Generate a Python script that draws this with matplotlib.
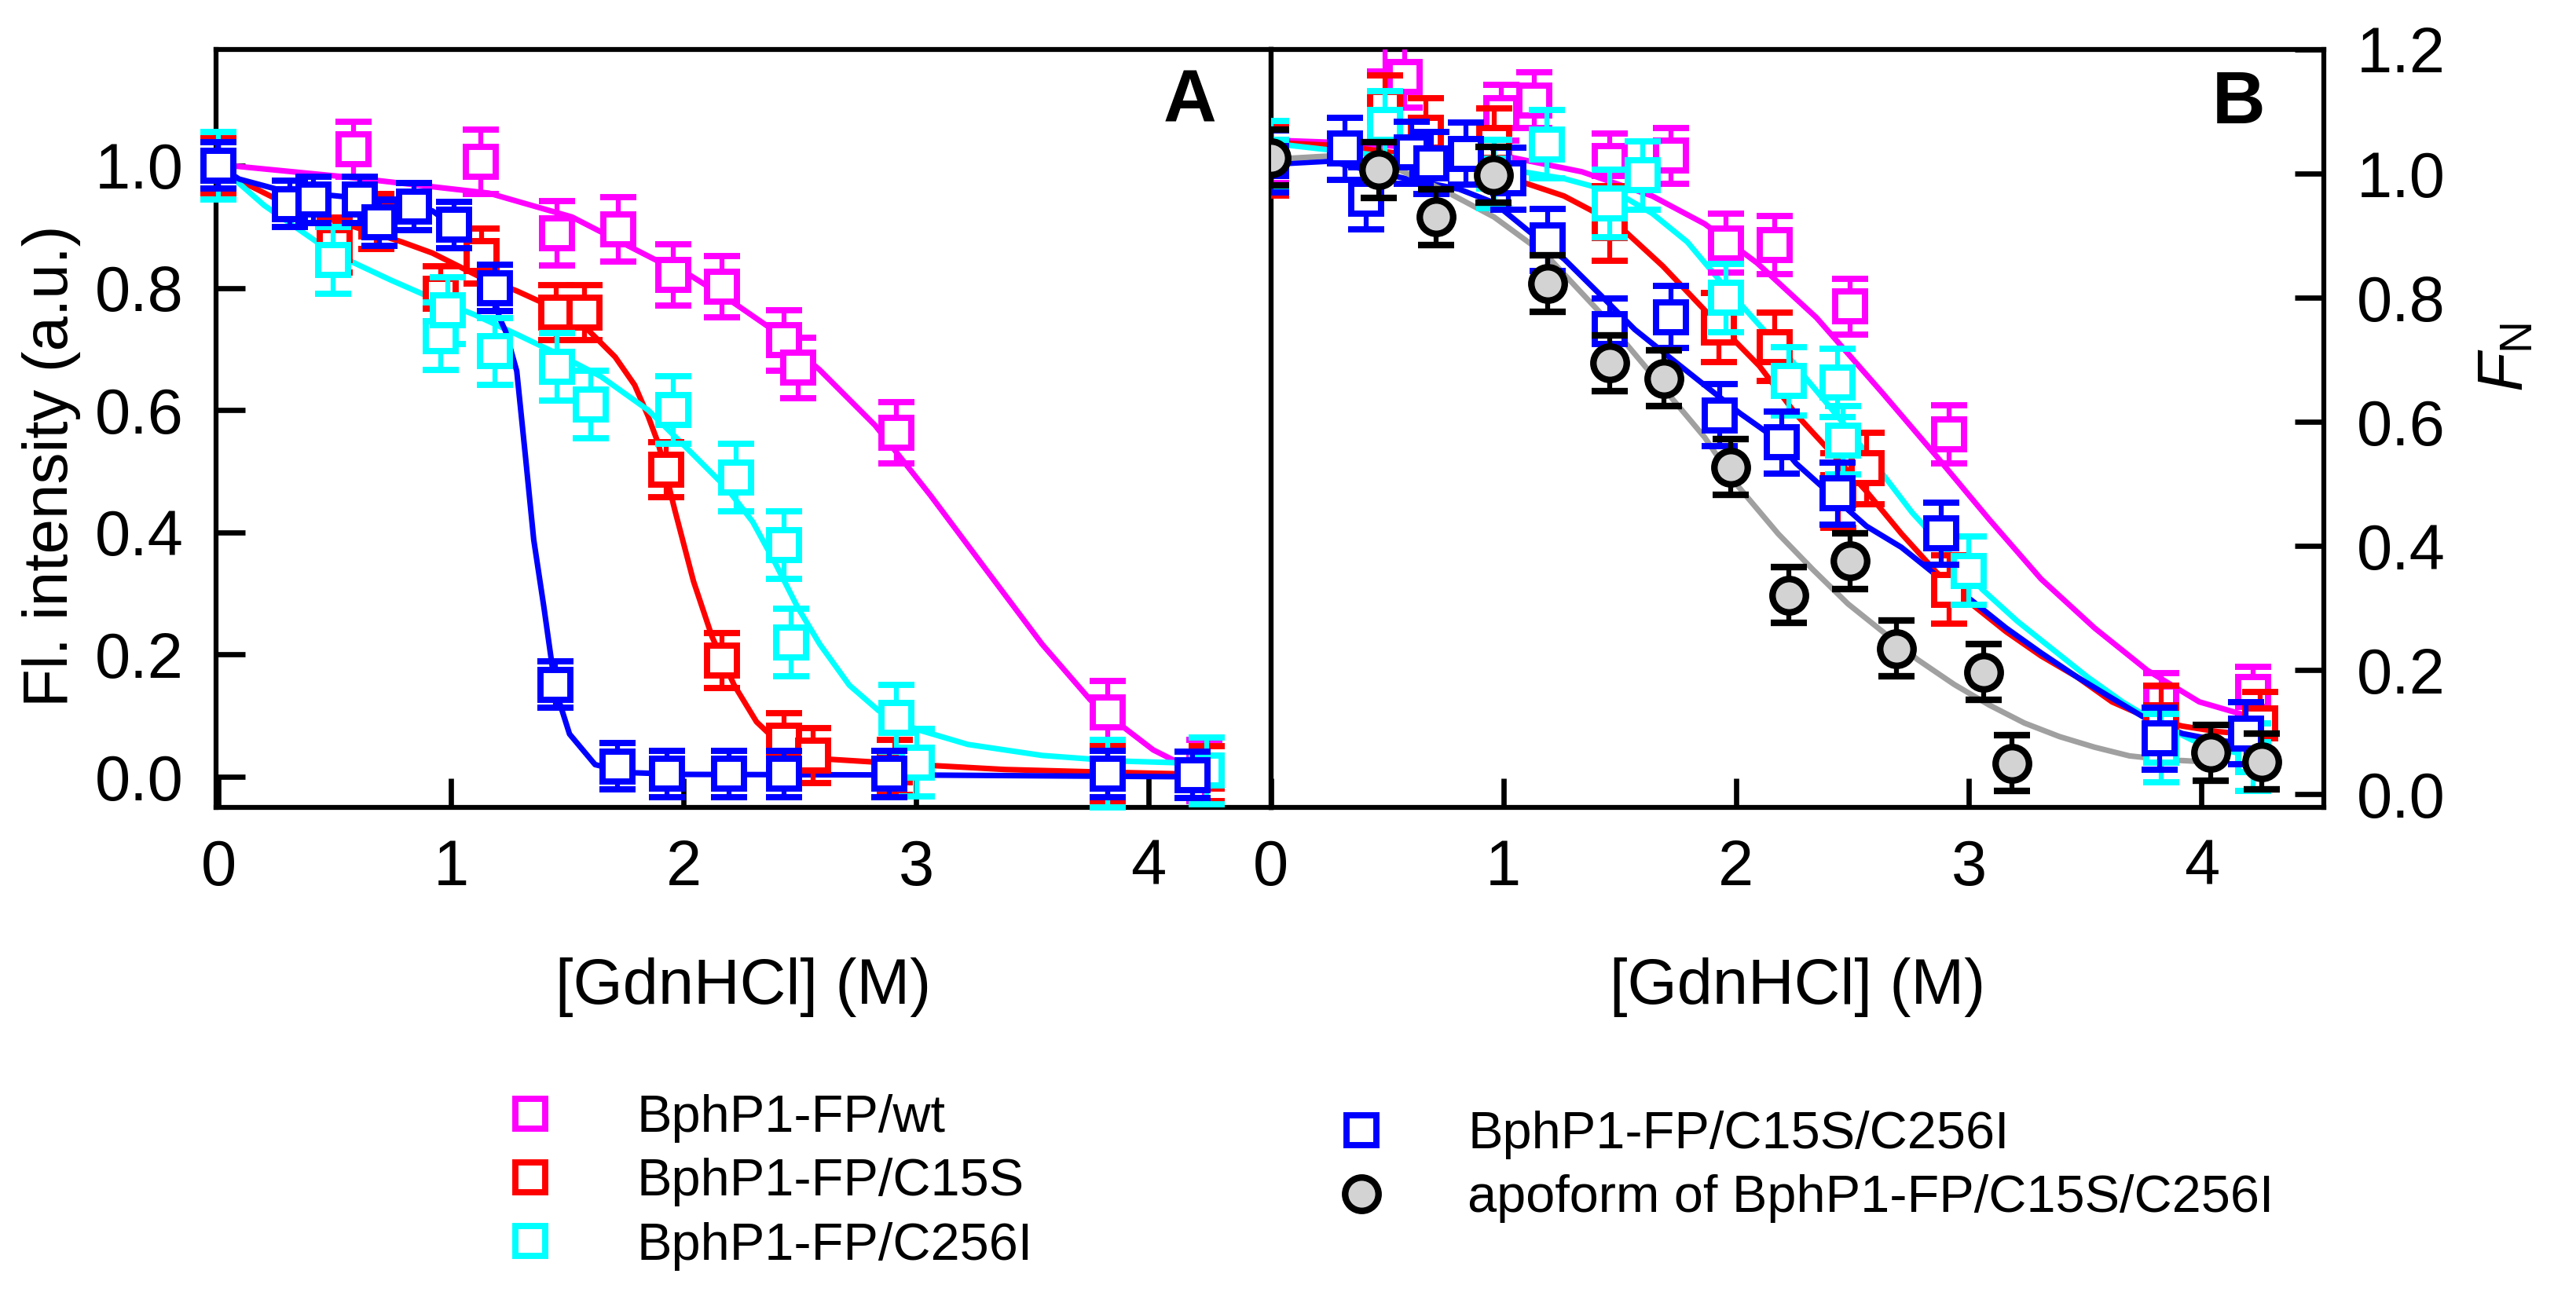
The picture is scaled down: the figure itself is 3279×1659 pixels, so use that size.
import matplotlib
matplotlib.use("Agg")
import matplotlib.pyplot as plt
from matplotlib.lines import Line2D
from matplotlib.ticker import FormatStrFormatter

plt.rcParams['font.family'] = ['Liberation Sans', 'DejaVu Sans']
plt.rcParams['mathtext.fontset'] = 'custom'
plt.rcParams['mathtext.rm'] = 'Liberation Sans'
plt.rcParams['mathtext.it'] = 'Liberation Sans:italic'

labels = ['BphP1-FP/wt', 'BphP1-FP/C15S', 'BphP1-FP/C256I',
          'BphP1-FP/C15S/C256I', 'apoform of BphP1-FP/C15S/C256I']
colors = ['#FF00FF', '#FF0000', '#00FFFF', '#0000FF', '#000000']

# ---- panel A: fluorescence intensity ----
wt_A_x = [0, 0.58, 1.13, 1.456, 1.72, 1.956, 2.166, 2.434, 2.493, 2.917, 3.825, 4.24]
wt_A_y = [1.0, 1.027, 1.006, 0.889, 0.896, 0.821, 0.802, 0.714, 0.669, 0.563, 0.105, 0.01]
wt_A_e = [0.04, 0.045, 0.053, 0.053, 0.053, 0.05, 0.05, 0.05, 0.05, 0.05, 0.052, 0.05]

c15s_A_x = [0, 0.5, 0.68, 0.955, 1.133, 1.452, 1.573, 1.927, 2.166, 2.434, 2.556, 2.91, 3.825, 4.25]
c15s_A_y = [1.0, 0.87, 0.908, 0.79, 0.852, 0.76, 0.76, 0.502, 0.19, 0.059, 0.035, 0.015, 0.005, 0.005]
c15s_A_e = [0.045] * 14

c256i_A_x = [0, 0.493, 0.955, 0.985, 1.189, 1.456, 1.60, 1.956, 2.227, 2.434, 2.462, 2.917, 3.003, 3.825, 4.25]
c256i_A_y = [1.0, 0.845, 0.721, 0.763, 0.696, 0.671, 0.609, 0.60, 0.49, 0.379, 0.22, 0.096, 0.023, 0.005, 0.01]
c256i_A_e = [0.055] * 15

dm_A_x = [0, 0.306, 0.409, 0.608, 0.692, 0.84, 1.015, 1.189, 1.45, 1.716, 1.928, 2.195, 2.434, 2.885, 3.825, 4.19]
dm_A_y = [1.0, 0.937, 0.944, 0.944, 0.907, 0.933, 0.903, 0.80, 0.151, 0.017, 0.005, 0.005, 0.005, 0.005, 0.005, 0.003]
dm_A_e = [0.038] * 16

# fitted curves, panel A
wt_A_fit_x = [0, 0.077, 0.56, 1.163, 1.52, 1.72, 1.884, 2.027, 2.218, 2.378, 2.585, 2.824,
              3.063, 3.303, 3.542, 3.749, 3.893, 4.02, 4.13, 4.24]
wt_A_fit_y = [1.0, 0.999, 0.981, 0.955, 0.916, 0.877, 0.845, 0.821, 0.775, 0.733, 0.666, 0.575,
              0.46, 0.338, 0.217, 0.126, 0.081, 0.044, 0.023, 0.008]
c15s_A_fit_x = [0, 0.089, 0.246, 0.5, 0.79, 0.92, 1.114, 1.283, 1.404, 1.585, 1.706, 1.79, 1.848,
                1.892, 1.963, 2.043, 2.123, 2.218, 2.314, 2.425, 2.617, 3.0, 3.383, 3.78, 4.13, 4.25]
c15s_A_fit_y = [1.0, 0.976, 0.946, 0.91, 0.875, 0.857, 0.82, 0.795, 0.774, 0.733, 0.687, 0.641, 0.59,
                0.545, 0.436, 0.32, 0.229, 0.15, 0.09, 0.05, 0.029, 0.02, 0.012, 0.008, 0.005, 0.004]
c256i_A_fit_x = [0, 0.089, 0.197, 0.318, 0.439, 0.583, 0.74, 0.92, 1.102, 1.283, 1.464, 1.645, 1.848,
                 2.027, 2.187, 2.298, 2.394, 2.49, 2.586, 2.713, 2.84, 3.0, 3.223, 3.542, 3.861, 4.13, 4.25]
c256i_A_fit_y = [1.0, 0.971, 0.935, 0.903, 0.871, 0.841, 0.813, 0.783, 0.756, 0.724, 0.691, 0.655, 0.60,
                 0.533, 0.472, 0.417, 0.35, 0.278, 0.217, 0.15, 0.108, 0.078, 0.053, 0.035, 0.026, 0.023, 0.022]
dm_A_fit_x = [0, 0.089, 0.246, 0.439, 0.68, 0.92, 1.05, 1.15, 1.21, 1.235, 1.283, 1.32, 1.356,
              1.40, 1.45, 1.51, 1.62, 1.76, 2.0, 3.0, 4.2]
dm_A_fit_y = [1.0, 0.978, 0.962, 0.953, 0.944, 0.926, 0.89, 0.83, 0.75, 0.729, 0.664, 0.526, 0.388,
              0.277, 0.142, 0.07, 0.02, 0.007, 0.004, 0.003, 0.0]

# ---- panel B: fraction native ----
wt_B_x = [0, 0.49, 0.577, 0.99, 1.134, 1.455, 1.72, 1.956, 2.167, 2.49, 2.914, 3.826, 4.22]
wt_B_y = [1.03, 1.25, 1.156, 1.098, 1.118, 1.02, 1.029, 0.888, 0.885, 0.786, 0.58, 0.15, 0.165]
wt_B_e = [0.045, 0.085, 0.05, 0.045, 0.045, 0.045, 0.045, 0.047, 0.047, 0.045, 0.047, 0.045, 0.04]

c15s_B_x = [0, 0.49, 0.666, 0.96, 1.455, 1.925, 2.166, 2.44, 2.56, 2.914, 3.826, 4.25]
c15s_B_y = [1.02, 1.108, 1.066, 1.05, 0.92, 0.752, 0.721, 0.49, 0.525, 0.33, 0.12, 0.115]
c15s_B_e = [0.055, 0.05, 0.055, 0.055, 0.06, 0.056, 0.055, 0.06, 0.057, 0.055, 0.055, 0.05]

c256i_B_x = [0, 0.49, 0.96, 1.186, 1.455, 1.60, 1.956, 2.227, 2.435, 2.46, 3.0, 3.826, 4.22]
c256i_B_y = [1.03, 1.078, 1.0, 1.047, 0.952, 0.997, 0.80, 0.666, 0.663, 0.57, 0.36, 0.075, 0.06]
c256i_B_e = [0.055] * 13

dm_B_x = [0, 0.32, 0.41, 0.605, 0.69, 0.84, 1.02, 1.19, 1.455, 1.72, 1.93, 2.197, 2.436, 2.88, 3.82, 4.19]
dm_B_y = [1.02, 1.04, 0.96, 1.034, 1.017, 1.032, 0.992, 0.893, 0.749, 0.769, 0.611, 0.567, 0.485, 0.42, 0.09, 0.098]
dm_B_e = [0.05] * 16

apo_B_x = [0, 0.465, 0.71, 0.957, 1.19, 1.455, 1.69, 1.975, 2.225, 2.49, 2.688, 3.065, 3.185, 4.04, 4.26]
apo_B_y = [1.026, 1.006, 0.93, 0.998, 0.823, 0.695, 0.670, 0.527, 0.321, 0.376, 0.235, 0.197, 0.05, 0.067, 0.053]
apo_B_e = [0.045] * 15

wt_B_fit_x = [0, 0.3, 0.7, 1.036, 1.337, 1.639, 1.865, 2.09, 2.345, 2.63, 2.86, 3.087, 3.31, 3.54,
              3.766, 3.99, 4.22, 4.28]
wt_B_fit_y = [1.054, 1.05, 1.04, 1.026, 1.003, 0.964, 0.919, 0.856, 0.768, 0.646, 0.545, 0.443, 0.347,
              0.268, 0.20, 0.149, 0.124, 0.118]
c15s_B_fit_x = [0, 0.3, 0.7, 1.036, 1.26, 1.488, 1.685, 1.865, 2.1, 2.258, 2.41, 2.56, 2.71, 2.86,
                3.01, 3.16, 3.31, 3.465, 3.615, 3.766, 3.917, 4.07, 4.27]
c15s_B_fit_y = [1.05, 1.045, 1.025, 0.992, 0.964, 0.919, 0.851, 0.78, 0.69, 0.612, 0.55, 0.488, 0.42,
                0.358, 0.307, 0.262, 0.223, 0.189, 0.149, 0.124, 0.11, 0.101, 0.095]
c256i_B_fit_x = [0, 0.28, 0.7, 1.036, 1.26, 1.488, 1.639, 1.79, 1.94, 2.09, 2.24, 2.303, 2.454, 2.605,
                 2.756, 2.907, 3.058, 3.208, 3.359, 3.51, 3.66, 3.81, 3.962, 4.113, 4.22]
c256i_B_fit_y = [1.049, 1.037, 1.02, 1.006, 0.992, 0.969, 0.936, 0.89, 0.823, 0.76, 0.698, 0.669, 0.601,
                 0.528, 0.454, 0.392, 0.33, 0.279, 0.234, 0.189, 0.149, 0.115, 0.087, 0.07, 0.062]
dm_B_fit_x = [0, 0.25, 0.58, 0.81, 0.96, 1.11, 1.262, 1.413, 1.564, 1.714, 1.865, 2.016, 2.167, 2.258,
              2.41, 2.56, 2.71, 2.86, 3.01, 3.16, 3.31, 3.465, 3.615, 3.766, 3.917, 4.07, 4.22]
dm_B_fit_y = [1.015, 1.02, 0.992, 0.975, 0.953, 0.907, 0.862, 0.806, 0.749, 0.704, 0.659, 0.614, 0.574,
              0.533, 0.482, 0.432, 0.398, 0.353, 0.313, 0.268, 0.228, 0.189, 0.155, 0.121, 0.098, 0.087, 0.081]
apo_B_fit_x = [0, 0.28, 0.553, 0.734, 0.96, 1.186, 1.413, 1.639, 1.865, 2.0, 2.18, 2.33, 2.48, 2.63,
               2.78, 2.937, 3.087, 3.238, 3.39, 3.54, 3.69, 3.84, 3.99, 4.05]
apo_B_fit_y = [1.023, 1.029, 1.006, 0.975, 0.93, 0.868, 0.777, 0.676, 0.575, 0.50, 0.42, 0.362, 0.307,
               0.262, 0.217, 0.177, 0.144, 0.115, 0.093, 0.076, 0.062, 0.056, 0.053, 0.053]

W, H = 3279, 1659
fig = plt.figure(figsize=(W / 300, H / 300), dpi=300)
axA = fig.add_axes([275 / W, 1 - 1028 / H, (1617.5 - 275) / W, (1028 - 63) / H])
axB = fig.add_axes([1617.5 / W, 1 - 1028 / H, (2958 - 1617.5) / W, (1028 - 63) / H])

sq = dict(fmt='s', ms=9, mew=1.9, mfc='white', elinewidth=1.5, capsize=5.6, capthick=1.5)
fit_lw = 1.7

# panel A
for (fx, fy), c in zip([(wt_A_fit_x, wt_A_fit_y), (c15s_A_fit_x, c15s_A_fit_y),
                        (c256i_A_fit_x, c256i_A_fit_y), (dm_A_fit_x, dm_A_fit_y)], colors):
    axA.plot(fx, fy, color=c, lw=fit_lw, zorder=2)
sets_A = [(wt_A_x, wt_A_y, wt_A_e), (c15s_A_x, c15s_A_y, c15s_A_e),
          (c256i_A_x, c256i_A_y, c256i_A_e), (dm_A_x, dm_A_y, dm_A_e)]
for i, ((x, y, e), c) in enumerate(zip(sets_A, colors)):
    axA.errorbar(x, y, yerr=e, mec=c, ecolor=c, zorder=3 + i, clip_on=False, **sq)

# panel B
fits_B = [(wt_B_fit_x, wt_B_fit_y), (c15s_B_fit_x, c15s_B_fit_y), (c256i_B_fit_x, c256i_B_fit_y),
          (dm_B_fit_x, dm_B_fit_y), (apo_B_fit_x, apo_B_fit_y)]
fit_colors = colors[:4] + ['#A0A0A0']
for (fx, fy), c in zip(fits_B, fit_colors):
    axB.plot(fx, fy, color=c, lw=fit_lw, zorder=2)
sets_B = [(wt_B_x, wt_B_y, wt_B_e), (c15s_B_x, c15s_B_y, c15s_B_e),
          (c256i_B_x, c256i_B_y, c256i_B_e), (dm_B_x, dm_B_y, dm_B_e)]
for i, ((x, y, e), c) in enumerate(zip(sets_B, colors)):
    axB.errorbar(x, y, yerr=e, mec=c, ecolor=c, zorder=3 + i, **sq)
axB.errorbar(apo_B_x, apo_B_y, yerr=apo_B_e, fmt='o', ms=10.2, mew=2.0, mfc='#D3D3D3', mec='black',
             ecolor='black', elinewidth=1.5, capsize=5.6, capthick=1.5, zorder=8)

for ax in (axA, axB):
    ax.set_xlim(-0.01 if ax is axA else 0, 4.525)
    ax.set_xticks([0, 1, 2, 3, 4])
    for s in ax.spines.values():
        s.set_linewidth(1.5)
    ax.tick_params(direction='in', length=8.8, width=1.6, labelsize=19.5)
    ax.tick_params(axis='x', pad=9.5)
    ax.tick_params(axis='y', pad=10)
    ax.yaxis.set_major_formatter(FormatStrFormatter('%.1f'))
    ax.set_xlabel('[GdnHCl] (M)', fontsize=19.5)
    ax.xaxis.set_label_coords(0.5, -0.198)

axA.set_ylim(-0.05, 1.19)
axA.set_yticks([0, 0.2, 0.4, 0.6, 0.8, 1.0])
axA.tick_params(top=False, right=False)
axA.set_ylabel('Fl. intensity (a.u.)', fontsize=19.2)
axA.yaxis.set_label_coords(-0.128, 0.45)

axB.set_ylim(-0.021, 1.2)
axB.set_yticks([0, 0.2, 0.4, 0.6, 0.8, 1.0, 1.2])
axB.tick_params(axis='y', left=False, right=True, labelleft=False, labelright=True)
axB.tick_params(top=False)

fig.text(3190 / W, 1 - 455 / H, r'$F_\mathrm{N}$', rotation=90, fontsize=19.5, ha='center', va='center')
axA.text(0.9235, 0.930, 'A', transform=axA.transAxes, fontsize=22.5, fontweight='bold',
         ha='center', va='center')
axB.text(0.919, 0.928, 'B', transform=axB.transAxes, fontsize=22.5, fontweight='bold',
         ha='center', va='center')

# legend
handles = []
for c in colors[:4]:
    handles.append(Line2D([], [], ls='none', marker='s', ms=9, mew=1.9, mfc='white', mec=c))
handles.append(Line2D([], [], ls='none', marker='o', ms=10.2, mew=2.0, mfc='#D3D3D3', mec='black'))
leg_kw = dict(frameon=False, fontsize=16, handlelength=1.0, handletextpad=1.525,
              labelspacing=0.29, borderpad=0, borderaxespad=0, loc='upper left')
fig.legend(handles[:3], labels[:3], bbox_to_anchor=(642 / W, 1 - 1393 / H), **leg_kw)
fig.legend(handles[3:], labels[3:], bbox_to_anchor=(1700 / W, 1 - 1414 / H), **leg_kw)

fig.savefig('out.png', dpi=300)
